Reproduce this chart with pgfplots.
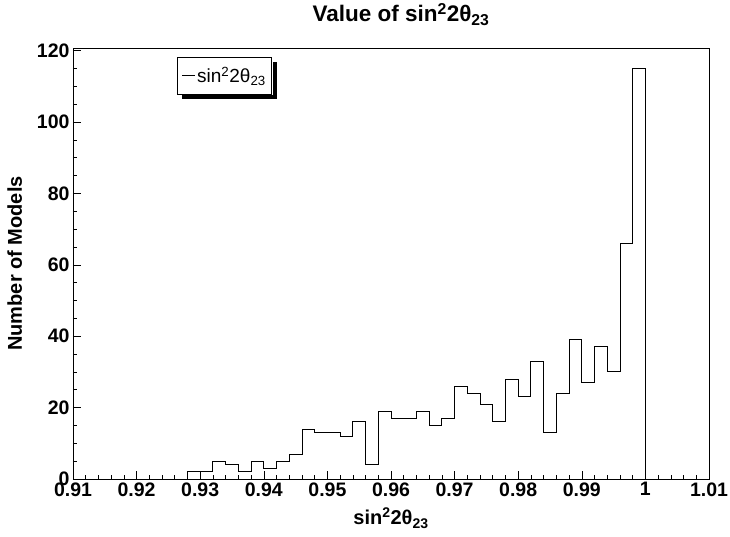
\documentclass[border=0pt]{standalone}
\usepackage{fontspec}
\setmainfont{Liberation Sans}
\usepackage{pgfplots}
\pgfplotsset{compat=1.18}
\newcommand{\sinsq}{sin\textsuperscript{2}2θ\textsubscript{23}}
\begin{document}
\begin{tikzpicture}
\begin{axis}[
  scale only axis,
  width=636pt, height=431pt,
  xmin=0.91, xmax=1.01, ymin=0, ymax=120.75,
  xtick={0.91,0.92,0.93,0.94,0.95,0.96,0.97,0.98,0.99,1,1.01},
  ytick={0,20,40,60,80,100,120},
  minor x tick num=4, minor y tick num=3,
  tick align=inside, tick pos=left,
  major tick length=8pt, minor tick length=4pt,
  axis line style={line width=0.8pt},
  tick style={black, line width=0.6pt},
  /pgf/number format/assume math mode=true,
  xticklabel style={/pgf/number format/fixed, /pgf/number format/precision=2},
  ticklabel style={font=\fontsize{19.5}{22}\selectfont\bfseries},
  label style={font=\fontsize{20}{23}\selectfont\bfseries},
  title style={font=\fontsize{22.5}{26}\selectfont\bfseries,
    at={([xshift=10pt,yshift=20pt]axis description cs:0.5,1)}, anchor=base},
  title={Value of \sinsq},
  xlabel={\sinsq},
  xlabel style={at={([yshift=-46pt]axis description cs:0.5,0)}, anchor=base},
  ylabel={Number of Models},
  ylabel style={at={([xshift=-51pt]axis description cs:0,0.5)}, anchor=base},
  legend style={name=leg, at={(axis description cs:0.1635,0.98)}, anchor=north west,
    draw=black, line width=0.8pt, fill=white, font=\fontsize{19}{22}\selectfont,
    inner xsep=4.5pt, inner ysep=8.5pt,
    nodes={inner sep=1.5pt}},
  legend image code/.code={\draw[line width=0.8pt] (0pt,0pt) -- (13pt,0pt);},
  legend cell align=left,
]
\addplot[const plot mark left, black, line width=0.9pt] coordinates {
  (0.910,0) (0.928,0)
  (0.928,2) (0.930,2) (0.932,5) (0.934,4) (0.936,2) (0.938,5)
  (0.940,3) (0.942,5) (0.944,7) (0.946,14) (0.948,13) (0.950,13)
  (0.952,12) (0.954,16) (0.956,4) (0.958,19) (0.960,17) (0.962,17)
  (0.964,19) (0.966,15) (0.968,17) (0.970,26) (0.972,24) (0.974,21)
  (0.976,16) (0.978,28) (0.980,23) (0.982,33) (0.984,13) (0.986,24)
  (0.988,39) (0.990,27) (0.992,37) (0.994,30) (0.996,66) (0.998,115)
  (1.000,0) (1.010,0)
};
\addlegendentry{\sinsq}
\coordinate (ll) at (rel axis cs:0,0);
\coordinate (ur) at (rel axis cs:1,1);
\end{axis}
% legend shadow (ROOT style)
\fill[black] ([shift={(0.4pt,-5pt)}]leg.north east) rectangle ([shift={(5pt,-5pt)}]leg.south east);
\fill[black] ([shift={(5pt,-0.4pt)}]leg.south west) rectangle ([shift={(5pt,-5pt)}]leg.south east);
\pgfresetboundingbox
\path ([shift={(-73pt,-58pt)}]ll) rectangle ([shift={(21pt,48pt)}]ur);
\end{tikzpicture}
\end{document}
